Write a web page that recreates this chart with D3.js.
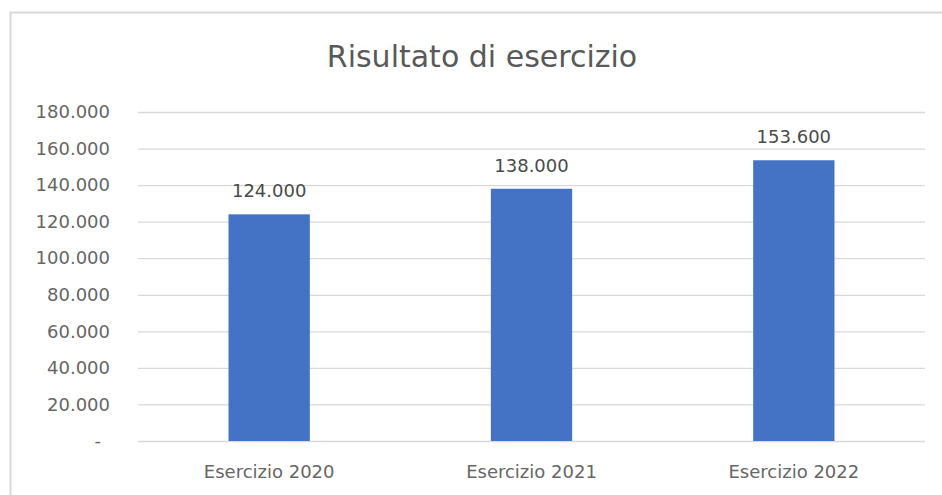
<!DOCTYPE html>
<html><head><meta charset="utf-8">
<script src="https://cdn.jsdelivr.net/npm/d3@7"></script>
<style>body{margin:0;background:#fff;}svg{display:block;font-family:"DejaVu Sans",sans-serif;}</style>
</head><body>
<svg id="c" width="942" height="495"></svg>
<script>
const categories = ["Esercizio 2020", "Esercizio 2021", "Esercizio 2022"];
const values = [124000, 138000, 153600];
const yTicks = [0, 20000, 40000, 60000, 80000, 100000, 120000, 140000, 160000, 180000];
const title = "Risultato di esercizio";

(function () {
const FONT = '"DejaVu Sans", sans-serif';
const svg = d3.select("#c");
svg.append("rect").attr("x", 10.5).attr("y", 12.5).attr("width", 940).attr("height", 490)
  .attr("fill", "#fff").attr("stroke", "#d9d9d9").attr("stroke-width", 2);

const mL = 138, mR = 925, mT = 112, mB = 441;
const x = d3.scaleBand().domain(categories).range([mL, mR]).paddingInner(0.69).paddingOuter(0.345);
const y = d3.scaleLinear().domain([0, 180000]).range([mB, mT]);
const loc = d3.formatLocale({decimal: ",", thousands: ".", grouping: [3], currency: ["", "€"]}).format(",.0f");
const fmt = v => v === 0 ? "-" : loc(v);

const ya = svg.append("g").attr("transform", `translate(${mL},0)`)
  .call(d3.axisLeft(y).tickValues(yTicks).tickSize(-(mR - mL)).tickPadding(28).tickFormat(fmt));
ya.attr("font-family", FONT);
ya.select(".domain").remove();
ya.selectAll(".tick line").attr("stroke", "#d9d9d9").attr("stroke-width", 1.3);
ya.selectAll(".tick text").attr("fill", "#666666").attr("font-size", 18)
  .attr("transform", d => d === 0 ? "translate(-9,0)" : null);

svg.append("g").selectAll("rect").data(values).join("rect")
  .attr("x", (d, i) => x(categories[i])).attr("width", x.bandwidth())
  .attr("y", d => y(d)).attr("height", d => y(0) - y(d)).attr("fill", "#4472C4");

svg.append("g").selectAll("text").data(values).join("text")
  .attr("x", (d, i) => x(categories[i]) + x.bandwidth() / 2).attr("y", d => y(d) - 17)
  .attr("text-anchor", "middle").attr("fill", "#4a4a4a").attr("font-size", 18).text(fmt);

const xa = svg.append("g").attr("transform", `translate(0,${mB})`)
  .call(d3.axisBottom(x).tickSize(0).tickPadding(24));
xa.attr("font-family", FONT);
xa.select(".domain").remove();
xa.selectAll(".tick text").attr("fill", "#666666").attr("font-size", 18);

svg.append("text").attr("x", 482).attr("y", 67).attr("text-anchor", "middle")
  .attr("fill", "#595959").attr("font-size", 30).text(title);
})();
</script>
</body></html>
